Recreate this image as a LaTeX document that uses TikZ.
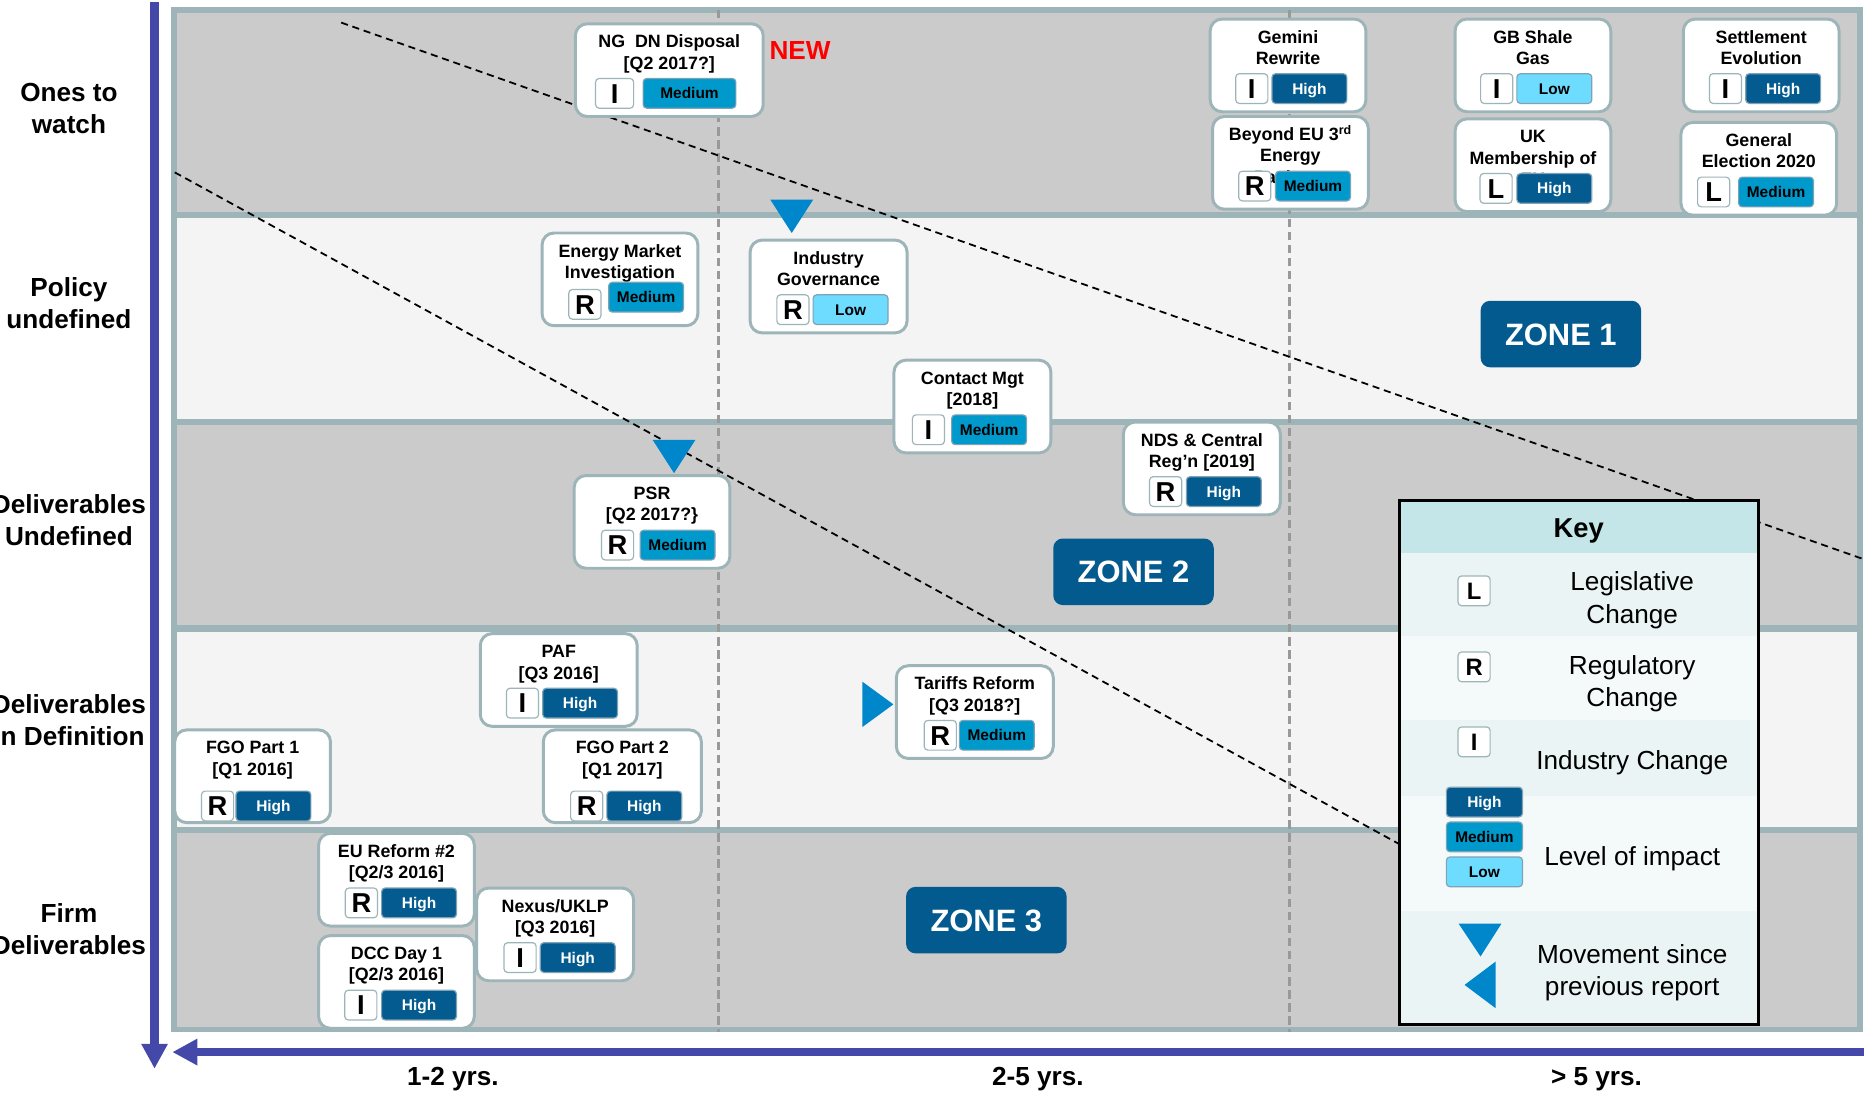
\documentclass[tikz,border=0pt]{standalone}
\usepackage{fontspec}
\setmainfont{Liberation Sans}
\usetikzlibrary{calc,arrows.meta}
\definecolor{bord}{HTML}{9DB5B8}
\definecolor{rowgray}{HTML}{CBCBCB}
\definecolor{rowlight}{HTML}{F4F4F4}
\definecolor{axisc}{HTML}{4449A9}
\definecolor{hi}{HTML}{035B8F}
\definecolor{med}{HTML}{0099CC}
\definecolor{low}{HTML}{6DDCFF}
\definecolor{zonec}{HTML}{035A8E}
\definecolor{tric}{HTML}{0086CB}
\definecolor{keyhead}{HTML}{C4E6E8}
\definecolor{keyA}{HTML}{EBF4F5}
\definecolor{keyB}{HTML}{F4F9F9}
\definecolor{lvlbord}{HTML}{7FA2B4}
\definecolor{dashgray}{HTML}{999999}
\definecolor{newred}{HTML}{FF0000}

\newcommand\letdy{58.5}
\newcommand\impdy{58.5}
\newcommand\letw{27}
\newcommand\impw{63}
% #1 name, #2 centre x, #3 top y, #4 width, #5 title, #6 letter, #7 level, #8 letter dx, #9 level dx
\newcommand\mycard[9]{%
  \node[card, minimum width=#4, anchor=north] (#1) at (#2,#3) {};
  \node[cardtitle] (#1-t) at ($(#1.north)+(0,7)$) {\rule{0pt}{13pt}#5};
  \node[letbox, minimum width=\letw] (#1-l) at ($(#1.north)+(#8,\letdy)$) {#6};
  \node[lvl#7, minimum width=\impw] (#1-i) at ($(#1.north)+(#9,\impdy)$) {#7};
}

\begin{document}
\begin{tikzpicture}[x=1pt,y=-1pt,
  card/.style={draw=bord, line width=2.5pt, fill=white, rounded corners=10pt, minimum height=78pt, inner sep=0pt, outer sep=0pt},
  cardtitle/.style={font=\bfseries\fontsize{15}{18}\selectfont, align=center, inner sep=0pt, anchor=north},
  letbox/.style={draw=bord, line width=1pt, fill=white, rounded corners=3pt, minimum height=25pt, inner sep=0pt, font=\bfseries\fontsize{23}{23}\selectfont, text height=16.5pt, text depth=0pt},
  keylet/.style={letbox, minimum width=27pt, font=\bfseries\fontsize{20}{20}\selectfont, text height=14.3pt},
  lvlbase/.style={draw=lvlbord, line width=1pt, rounded corners=3pt, minimum height=25pt, inner sep=0pt, font=\bfseries\fontsize{13}{13}\selectfont, text height=9.3pt, text depth=0pt},
  lvlHigh/.style={lvlbase, fill=hi, text=white},
  lvlMedium/.style={lvlbase, fill=med, text=black},
  lvlLow/.style={lvlbase, fill=low, text=black},
  zone/.style={fill=zonec, rounded corners=8pt, minimum width=135pt, minimum height=56pt, inner sep=0pt, text=white, font=\bfseries\fontsize{26}{26}\selectfont, text height=18.6pt, text depth=0pt},
  sidelbl/.style={font=\bfseries\fontsize{22}{27}\selectfont, align=center, inner sep=0pt, anchor=north},
  keytxt/.style={font=\fontsize{22}{27}\selectfont, align=center, inner sep=0pt, anchor=north},
  axlbl/.style={font=\bfseries\fontsize{22}{22}\selectfont, inner sep=0pt, anchor=base},
  sep/.style={draw=bord, line width=5.5pt},
  vdash/.style={draw=dashgray, line width=2.5pt, dash pattern=on 7pt off 4pt},
  diag/.style={draw=black, line width=1.5pt, dash pattern=on 6pt off 4pt},
  axisline/.style={draw=axisc, line width=7pt, -{Triangle[length=21pt,width=21pt]}},
  marker/.style={fill=tric}
]
\useasboundingbox (0,0) rectangle (1568,921);
\fill[white] (0,0) rectangle (1568,921);

% rows
\fill[rowgray]  (146,8.5) rectangle (1565,181);
\fill[rowlight] (146,181) rectangle (1565,355);
\fill[rowgray]  (146,355) rectangle (1565,528.5);
\fill[rowlight] (146,528.5) rectangle (1565,698);
\fill[rowgray]  (146,698) rectangle (1565,866);
\draw[sep] (146,181) -- (1565,181);
\draw[sep] (146,355) -- (1565,355);
\draw[sep] (146,528.5) -- (1565,528.5);
\draw[sep] (146,698) -- (1565,698);
\draw[bord, line width=5pt] (146,8.5) rectangle (1565,866);

% time dividers
\draw[vdash] (604,8) -- (604,868);
\draw[vdash] (1085,8) -- (1085,868);

% zone boundaries
\draw[diag] (287,19) -- (1568,470.5);
\draw[diag] (147,145) -- (1177,710);

% cards
\begin{scope}
\renewcommand\letw{32}\renewcommand\impw{78}
\mycard{ng}{563}{20}{158}{NG~~DN Disposal\\{}[Q2 2017?]}{I}{Medium}{-46}{17}
\end{scope}
\mycard{gem}{1083.5}{16}{131}{Gemini\\Rewrite}{I}{High}{-30.5}{18}
\mycard{shale}{1289.5}{16}{131}{GB Shale\\Gas}{I}{Low}{-30.5}{18}
\mycard{settle}{1481.5}{16}{131}{Settlement\\Evolution}{I}{High}{-30}{18.5}
\mycard{beyond}{1085.5}{98}{131}{Beyond EU 3\textsuperscript{rd}\\Energy\\Package}{R}{Medium}{-30}{19}
\mycard{ukm}{1289.5}{100}{131}{UK\\Membership of\\EU}{L}{High}{-31}{18}
\mycard{gen}{1479.5}{103}{131}{General\\Election 2020}{L}{Medium}{-38}{14.5}
\begin{scope}
\renewcommand\letdy{60}\renewcommand\impdy{54}
\mycard{emi}{521.5}{196}{131}{Energy Market\\Investigation}{R}{Medium}{-29.5}{22}
\end{scope}
\mycard{igov}{697}{202}{132}{Industry\\Governance}{R}{Low}{-30}{18.5}
\mycard{cmgt}{818}{303}{132}{Contact Mgt\\{}[2018]}{I}{Medium}{-37}{14}
\mycard{nds}{1011}{355}{132}{NDS \& Central\\Reg'n [2019]}{R}{High}{-30.5}{18.5}
\mycard{psr}{548.5}{400}{131}{PSR\\{}[Q2 2017?\}}{R}{Medium}{-29}{21.5}
\mycard{paf}{470}{533}{132}{PAF\\{}[Q3 2016]}{I}{High}{-30.5}{18}
\mycard{tariff}{820}{560}{132}{Tariffs Reform\\{}[Q3 2018?]}{R}{Medium}{-29}{18.5}
\begin{scope}
\renewcommand\letdy{64}\renewcommand\impdy{64}
\mycard{fgoa}{212.5}{614}{131}{FGO Part 1\\{}[Q1 2016]}{R}{High}{-29.5}{17.5}
\mycard{fgob}{523.5}{614}{133}{FGO Part 2\\{}[Q1 2017]}{R}{High}{-30}{18.5}
\end{scope}
\mycard{eur}{333.5}{701}{131}{EU Reform \#2\\{}[Q2/3 2016]}{R}{High}{-29.5}{19}
\mycard{nexus}{467}{747}{132}{Nexus/UKLP\\{}[Q3 2016]}{I}{High}{-29.5}{19}
\mycard{dcc}{333.5}{787}{131}{DCC Day 1\\{}[Q2/3 2016]}{I}{High}{-30}{19}

% movement markers
\fill[marker] (648,168) -- (684,168) -- (666,196) -- cycle;
\fill[marker] (549,370) -- (585,370) -- (567,398) -- cycle;
\fill[marker] (725.5,573.5) -- (725.5,611.5) -- (751.5,592.5) -- cycle;

\node[axlbl, text=newred] (new) at (673,50) {NEW};

% zones
\node[zone] (z1) at (1313,281) {ZONE 1};
\node[zone] (z2) at (953.5,481) {ZONE 2};
\node[zone] (z3) at (829.7,774) {ZONE 3};

% key
\fill[keyhead] (1177,421) rectangle (1479.5,465);
\fill[keyA] (1177,465) rectangle (1479.5,535);
\fill[keyB] (1177,535) rectangle (1479.5,605.5);
\fill[keyA] (1177,605.5) rectangle (1479.5,670);
\fill[keyB] (1177,670) rectangle (1479.5,766);
\fill[keyA] (1177,766) rectangle (1479.5,862);
\draw[black, line width=2.5pt] (1177,421) rectangle (1479.5,862);
\node[font=\bfseries\fontsize{23}{23}\selectfont, inner sep=0pt, anchor=base] (ktitle) at (1328,452.2) {Key};
\node[keylet] (kL) at (1240,497) {L};
\node[keylet] (kR) at (1240,561) {R};
\node[keylet] (kI) at (1240,624) {I};
\node[keytxt] (kLt) at (1373,479.9) {\rule{0pt}{17pt}Legislative\\Change};
\node[keytxt] (kRt) at (1373,549.9) {\rule{0pt}{17pt}Regulatory\\Change};
\node[keytxt] (kIt) at (1373,629.9) {\rule{0pt}{17pt}Industry Change};
\node[lvlHigh, minimum width=64pt] (kH) at (1248.7,674.7) {High};
\node[lvlMedium, minimum width=64pt] (kM) at (1248.7,704) {Medium};
\node[lvlLow, minimum width=64pt] (kLo) at (1248.7,733.4) {Low};
\node[keytxt] (kLvt) at (1373,710.9) {\rule{0pt}{17pt}Level of impact};
\fill[marker] (1227,777) -- (1263,777) -- (1245.4,804.6) -- cycle;
\fill[marker] (1258,809) -- (1258,848) -- (1232,828.5) -- cycle;
\node[keytxt] (kMt) at (1373,792.9) {\rule{0pt}{17pt}Movement since\\previous report};

% side labels
\node[sidelbl] (s1) at (58,67.9) {\rule{0pt}{17pt}Ones to\\watch};
\node[sidelbl] (s2) at (58,231.9) {\rule{0pt}{17pt}Policy\\undefined};
\node[sidelbl] (s3) at (58,414.9) {\rule{0pt}{17pt}Deliverables\\Undefined};
\node[sidelbl] (s4) at (58,582.9) {\rule{0pt}{17pt}Deliverables\\In Definition};
\node[sidelbl] (s5) at (58,758.9) {\rule{0pt}{17pt}Firm\\Deliverables};

% axes
\coordinate (vtop) at (130,2);
\coordinate (vend) at (130,899);
\coordinate (hstart) at (1568,885);
\coordinate (hend) at (145,885);
\draw[axisline] (vtop) -- (vend);
\draw[axisline] (hstart) -- (hend);
\node[axlbl] (t1) at (381,913) {1-2 yrs.};
\node[axlbl] (t2) at (873,913) {2-5 yrs.};
\node[axlbl] (t3) at (1343,913) {> 5 yrs.};
\end{tikzpicture}
\end{document}
